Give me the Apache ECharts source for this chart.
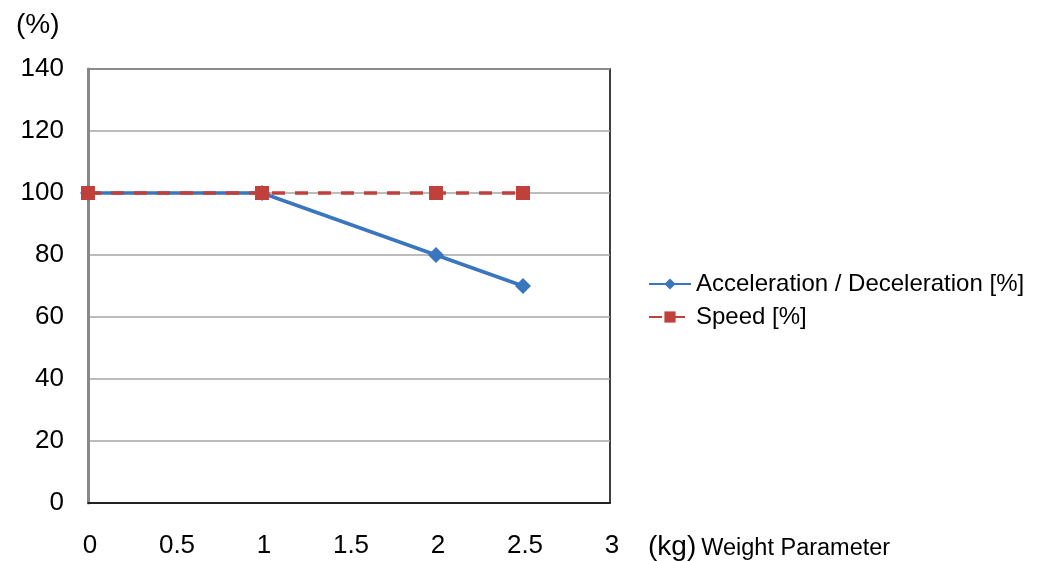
<!DOCTYPE html>
<html><head><meta charset="utf-8">
<script src="https://cdn.jsdelivr.net/npm/echarts@6/dist/echarts.min.js"></script>
<style>html,body{margin:0;padding:0;background:#fff}#c{width:1041px;height:561px}</style>
</head><body><div id="c"></div>
<script>
const weights = [0, 1, 2, 2.5];
const accelValues = [100, 100, 80, 70];
const speedValues = [100, 100, 100, 100];
const seriesNames = ['Acceleration / Deceleration [%]', 'Speed [%]'];
const xTicks = [0, 0.5, 1, 1.5, 2, 2.5, 3];
const yTicks = [0, 20, 40, 60, 80, 100, 120, 140];

const F = 'Liberation Sans, Arial, sans-serif';
const chart = echarts.init(document.getElementById('c'));
chart.setOption({
  animation: false,
  backgroundColor: '#fff',
  textStyle: { fontFamily: F },
  grid: { left: 88, right: 431, top: 69, bottom: 58, show: true, borderColor: '#000', borderWidth: 1.5 },
  title: [
    { text: '(%)', left: 11, top: 6, textStyle: { fontFamily: F, fontSize: 28, fontWeight: 'normal', color: '#000' } },
    { text: '{a|(kg)} {b|Weight Parameter}', left: 643, top: 528,
      textStyle: { rich: {
        a: { fontFamily: F, fontSize: 28, fontWeight: 'normal', color: '#000' },
        b: { fontFamily: F, fontSize: 23.5, fontWeight: 'normal', color: '#000', padding: [4, 0, 0, 0] } } } }
  ],
  legend: {
    orient: 'vertical', left: 643, top: 267, itemGap: 9, itemWidth: 42, itemHeight: 14,
    textStyle: { fontFamily: F, fontSize: 24, color: '#000' },
    data: seriesNames
  },
  xAxis: {
    type: 'value', min: xTicks[0], max: xTicks[xTicks.length - 1], interval: 0.5,
    axisLine: { show: true, lineStyle: { color: '#000', width: 1.5 } },
    axisTick: { show: false }, splitLine: { show: false },
    axisLabel: { fontFamily: F, fontSize: 26, color: '#000', margin: 30, padding: [0, 0, 0, 4], formatter: v => String(v) }
  },
  yAxis: {
    type: 'value', min: yTicks[0], max: yTicks[yTicks.length - 1], interval: 20,
    axisLine: { show: true, lineStyle: { color: '#888', width: 3 } },
    axisTick: { show: false },
    splitLine: { show: true, lineStyle: { color: '#a6a6a6', width: 1.5 } },
    axisLabel: { fontFamily: F, fontSize: 26, color: '#000', margin: 24, padding: [10, 0, 0, 0] }
  },
  series: [
    { name: seriesNames[0], type: 'line', data: weights.map((w, i) => [w, accelValues[i]]),
      symbol: 'diamond', symbolSize: 16, color: '#3a76bf',
      lineStyle: { width: 3.5, color: '#3a76bf' }, itemStyle: { color: '#3a76bf' }, z: 2 },
    { name: seriesNames[1], type: 'line', data: weights.map((w, i) => [w, speedValues[i]]),
      symbol: 'rect', symbolSize: 14, color: '#c0403c',
      lineStyle: { width: 3.5, type: [13, 10], color: '#c0403c' }, itemStyle: { color: '#c0403c' }, z: 3 }
  ]
});
</script></body></html>
